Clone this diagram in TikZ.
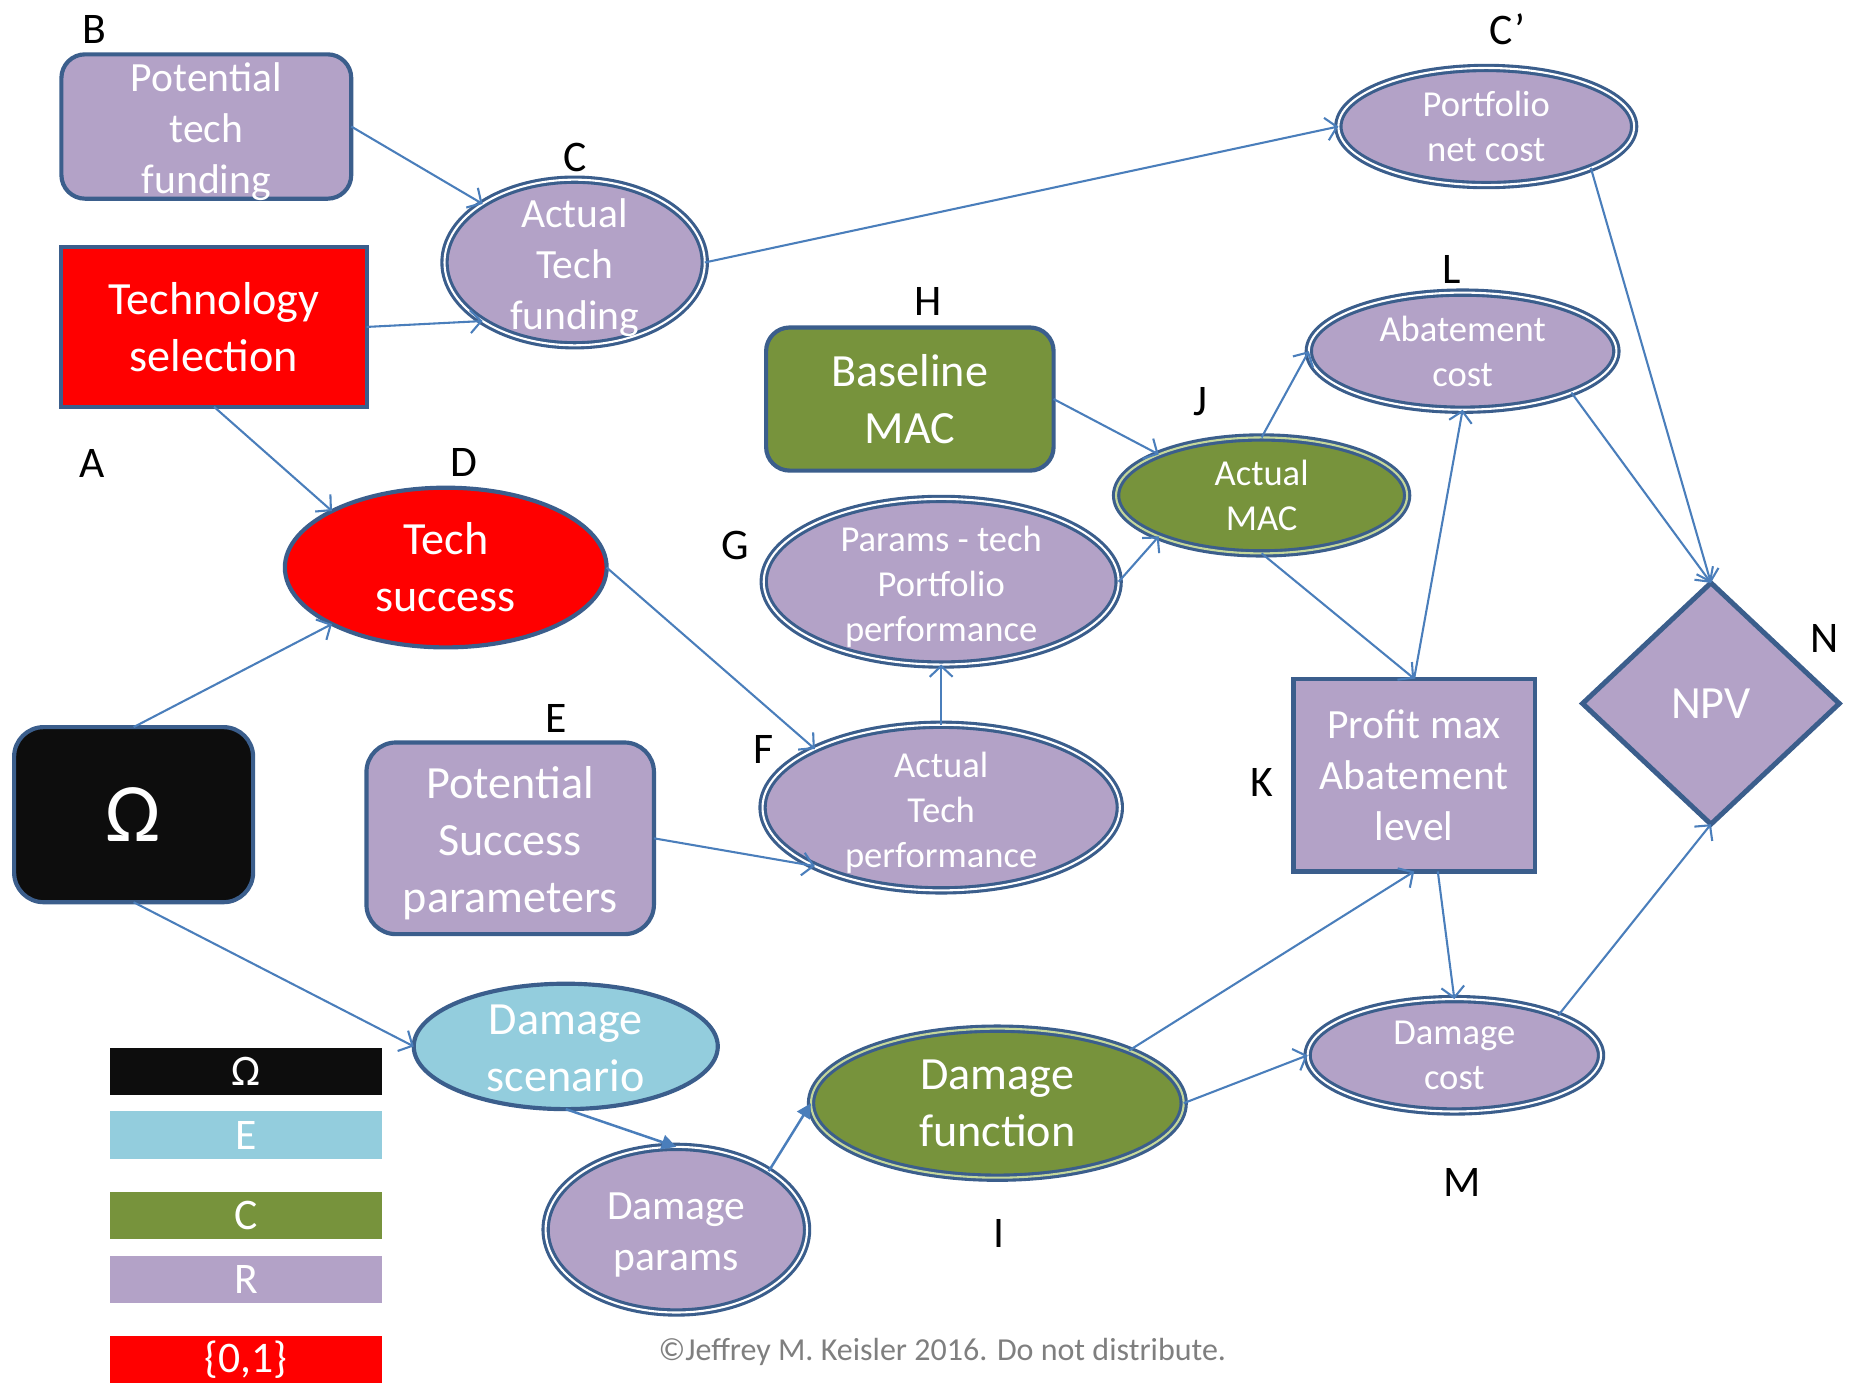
\documentclass[tikz,border=0pt]{standalone}
\usepackage{fontspec}
\setmainfont{Carlito}
\usetikzlibrary{shapes.geometric,arrows.meta,calc}

\definecolor{lav}{HTML}{B3A2C7}
\definecolor{rim}{HTML}{3B5E8C}
\definecolor{grn}{HTML}{77933C}
\definecolor{grnlight}{HTML}{C4D79B}
\definecolor{sky}{HTML}{93CDDD}
\definecolor{ink}{HTML}{0D0D0D}
\definecolor{wire}{HTML}{4A7EBB}
\definecolor{note}{HTML}{7F7F7F}

\begin{document}
\begin{tikzpicture}[x=0.01cm,y=-0.01cm,
  every node/.style={inner sep=0pt,outer sep=0pt},
  rbox/.style={rectangle,rounded corners=0.2cm,draw=rim,line width=1pt},
  sbox/.style={rectangle,draw=rim,line width=1pt},
  oval/.style={ellipse,draw=rim,line width=1pt},
  ring/.style={ellipse,draw=rim,line width=0.75pt,double=white,double distance=0.5pt},
  gring/.style={ring,double=grnlight},
  txt/.style={text=white,align=center},
  low/.style={yshift=-0.045cm},
  fbig/.style={font=\fontsize{11.1}{13.7}\selectfont},
  fmid/.style={font=\fontsize{10}{12.2}\selectfont},
  fsmall/.style={font=\fontsize{8.8}{10.8}\selectfont},
  tag/.style={text=black,font=\fontsize{10.5}{12}\selectfont},
  key/.style={rectangle,minimum width=2.3cm,minimum height=0.4cm,text=white,
    font=\fontsize{10.5}{12}\selectfont},
  link/.style={draw=wire,line width=0.5pt,-{Straight Barb[length=2.6pt,width=5.5pt]}},
  flink/.style={draw=wire,line width=0.6pt,-{Triangle[length=3.5pt,width=3.5pt]}},
]
\useasboundingbox (0,0) rectangle (1568,1170);

% ---------- decision and chance nodes ----------
\node[rbox,fill=lav,minimum width=2.45cm,minimum height=1.22cm] (B) at (174.5,107) {};
\node[txt,fmid,low] (Bt) at (B) {Potential\\tech\\funding};

\node[sbox,fill=red,minimum width=2.58cm,minimum height=1.35cm] (A) at (181,276.5) {};
\node[txt,fbig] (At) at (A) {Technology\\selection};

\node[ring,fill=lav,minimum width=2.2cm,minimum height=1.4cm] (C) at (486,222) {};
\node[txt,fmid,low] (Ct) at (C) {Actual\\Tech\\funding};

\node[ring,fill=lav,minimum width=2.5cm,minimum height=0.99cm] (Cp) at (1257,107) {};
\node[txt,fsmall] (Cpt) at (Cp) {Portfolio\\net cost};

\node[rbox,fill=grn,minimum width=2.43cm,minimum height=1.21cm] (H) at (769.5,337.5) {};
\node[txt,fbig] (Ht) at (H) {Baseline\\MAC};

\node[gring,fill=grn,minimum width=2.46cm,minimum height=0.98cm] (J) at (1067,419) {};
\node[txt,fsmall] (Jt) at (J) {Actual\\MAC};

\node[ring,fill=lav,minimum width=2.6cm,minimum height=0.99cm] (L) at (1237,297) {};
\node[txt,fsmall] (Lt) at (L) {Abatement\\cost};

\node[oval,fill=red,minimum width=2.72cm,minimum height=1.35cm] (D) at (377,480) {};
\node[txt,fbig] (Dt) at (D) {Tech\\success};

\node[ring,fill=lav,minimum width=3.0cm,minimum height=1.4cm] (G) at (796,492) {};
\node[txt,fsmall,low] (Gt) at (G) {Params - tech\\Portfolio\\performance};

\node[ring,fill=lav,minimum width=3.02cm,minimum height=1.4cm] (F) at (796,683) {};
\node[txt,fsmall,low] (Ft) at (F) {Actual\\Tech\\performance};

\node[rbox,fill=lav,rounded corners=0.25cm,minimum width=2.43cm,minimum height=1.62cm] (E) at (431.5,709) {};
\node[txt,fbig,low] (Et) at (E) {Potential\\Success\\parameters};

\node[rbox,fill=ink,rounded corners=0.25cm,minimum width=2.02cm,minimum height=1.48cm] (W) at (113,689) {};
\node[txt,font=\fontsize{20}{24}\selectfont] (Wt) at (W) {Ω};

\node[sbox,fill=lav,minimum width=2.04cm,minimum height=1.63cm] (K) at (1196,655.5) {};
\node[txt,fmid] (Kt) at (K) {Profit max\\Abatement\\level};

\node[diamond,draw=rim,line width=1.2pt,fill=lav,minimum width=2.17cm,minimum height=2.04cm] (N) at (1447,595) {};
\node[txt,fbig] (Nt) at (N) {NPV};

\node[oval,fill=sky,minimum width=2.57cm,minimum height=1.06cm] (S) at (478.5,885) {};
\node[txt,fbig,yshift=-0.02cm] (St) at (S) {Damage\\scenario};

\node[ring,fill=lav,minimum width=2.21cm,minimum height=1.4cm] (P) at (572,1040) {};
\node[txt,fmid,low] (Pt) at (P) {Damage\\params};

\node[gring,fill=grn,minimum width=3.15cm,minimum height=1.26cm] (I) at (843.5,933) {};
\node[txt,fbig] (It) at (I) {Damage\\function};

\node[ring,fill=lav,minimum width=2.48cm,minimum height=0.95cm] (M) at (1230,892.5) {};
\node[txt,fsmall] (Mt) at (M) {Damage\\cost};

% ---------- letter tags ----------
\node[tag] (tB) at (80,25) {B};
\node[tag] (tC) at (486,133) {C};
\node[tag] (tCp) at (1275,25) {C’};
\node[tag] (tA) at (78,392) {A};
\node[tag] (tD) at (392,391) {D};
\node[tag] (tH) at (785,255) {H};
\node[tag] (tL) at (1228,228) {L};
\node[tag] (tJ) at (1015,340) {J};
\node[tag] (tG) at (622,461) {G};
\node[tag] (tF) at (646,634) {F};
\node[tag] (tE) at (470,608) {E};
\node[tag] (tK) at (1067,662) {K};
\node[tag] (tN) at (1543,540) {N};
\node[tag] (tI) at (845,1043) {I};
\node[tag] (tM) at (1237,1000) {M};

% ---------- legend ----------
\node[key,fill=ink] (k1) at (208,906) {Ω};
\node[key,fill=sky] (k2) at (208,960) {E};
\node[key,fill=grn] (k3) at (208,1028) {C};
\node[key,fill=lav] (k4) at (208,1082) {R};
\node[key,fill=red] (k5) at (208,1150) {\{0,1\}};

\node[text=note,font=\fontsize{7.7}{9}\selectfont] (copy) at (797,1143)
  {©Jeffrey M. Keisler 2016. Do not distribute.};

% ---------- influence arcs ----------
\draw[link] (B.east) -- (C.north west);
\draw[link] (A.east) -- (C.south west);
\draw[link] (A.south) -- (D.north west);
\draw[link] (C.east) -- (Cp.west);
\draw[link] (Cp.south east) -- (N.north);
\draw[link] (W.north) -- (D.south west);
\draw[link] (D.east) -- (F.north west);
\draw[link] (E.east) -- (F.south west);
\draw[link] (F.north) -- (G.south);
\draw[link] (G.east) -- (J.south west);
\draw[link] (H.east) -- (J.north west);
\draw[link] (J.north) -- (L.west);
\draw[link] (J.south) -- (K.north);
\draw[link] (K.north) -- (L.south);
\draw[link] (L.south east) -- (N.north);
\draw[link] ([xshift=0.2cm]K.south) -- (M.north);
\draw[link] (M.north east) -- (N.south);
\draw[link] (I.north east) -- (K.south);
\draw[link] (I.east) -- (M.west);
\draw[link] (W.south) -- (S.west);
\draw[flink] (S.south) -- (P.north);
\draw[flink] (P.north east) -- (I.west);
\end{tikzpicture}
\end{document}
